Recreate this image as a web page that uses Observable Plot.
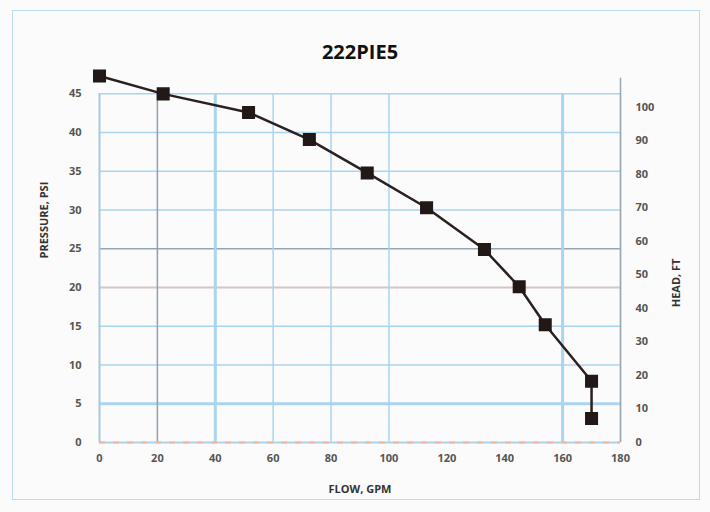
<!DOCTYPE html>
<html>
<head>
<meta charset="utf-8">
<script src="https://cdn.jsdelivr.net/npm/d3@7"></script>
<script src="https://cdn.jsdelivr.net/npm/@observablehq/plot@0.6"></script>
<style>
  body { margin: 0; background: #ffffff; }
  #wrap { position: relative; width: 710px; height: 512px; background: #fbfbfb; }
  #border { position: absolute; left: 12px; top: 10px; width: 686px; height: 488px; border: 1.5px solid #b9dcf2; pointer-events: none; }
  svg { position: absolute; left: 0; top: 0; }
</style>
</head>
<body>
<div id="wrap"><div id="border"></div></div>
<script>
const flow = [0, 22, 51.5, 72.5, 92.5, 113, 133, 145, 154, 170, 170];
const psi = [47.3, 45.0, 42.6, 39.1, 34.8, 30.3, 24.9, 20.1, 15.2, 7.9, 3.1];
const psiTicks = [0, 5, 10, 15, 20, 25, 30, 35, 40, 45];
const headTicks = [0, 10, 20, 30, 40, 50, 60, 70, 80, 90, 100];
const flowTicks = [0, 20, 40, 60, 80, 100, 120, 140, 160, 180];
const flowGrid = [20, 40, 60, 80, 100, 160, 180];
const title = "222PIE5";
const xLabel = "FLOW, GPM";
const yLabel = "PRESSURE, PSI";
const y2Label = "HEAD, FT";

const data = flow.map((f, i) => ({flow: f, psi: psi[i]}));
const font = "Open Sans, Liberation Sans, sans-serif";

const chart = Plot.plot({
  width: 710,
  height: 512,
  marginLeft: 99,
  marginRight: 90,
  marginTop: 74,
  marginBottom: 70,
  style: {fontFamily: font, fontSize: "11px", fontWeight: "bold", color: "#444", background: "transparent"},
  x: {domain: [0, 180]},
  y: {domain: [0, 47.5]},
  marks: [
    Plot.ruleY(psiTicks.filter(d => d > 0 && d !== 20 && d !== 25), {stroke: "#a9d5f0", strokeWidth: d => d === 5 ? 3 : 1.5}),
    Plot.ruleY([25], {stroke: "#8fa7b8", strokeWidth: 1.5}),
    Plot.ruleY([20], {stroke: "#d6c6c0", strokeWidth: 2}),
    Plot.ruleX(flowGrid.filter(d => d !== 20), {y1: 0, y2: 45, stroke: "#a9d5f0", strokeWidth: d => (d === 40 || d === 160) ? 3 : 1.5}),
    Plot.ruleX([20], {y1: 0, y2: 45, stroke: "#8fa0ae", strokeWidth: 1.5}),
    Plot.ruleY([0], {stroke: "#a9d5f0", strokeWidth: 2}),
    Plot.ruleY([0], {stroke: "#f0b8a0", strokeWidth: 2, strokeDasharray: "6,8"}),
    Plot.ruleX([0], {y1: 0, y2: 45, stroke: "#a9c8de", strokeWidth: 2}),
    Plot.ruleX([180], {y1: 0, y2: 47, stroke: "#9aa8b4", strokeWidth: 1.5}),
    Plot.axisX({ticks: flowTicks, tickSize: 0, tickPadding: 12, label: null, fill: "#555"}),
    Plot.axisY({ticks: psiTicks, tickSize: 0, tickPadding: 18, label: null, fill: "#555"}),
    Plot.axisY({anchor: "right", ticks: headTicks.map(h => h / 2.31), tickSize: 0, tickPadding: 15,
      tickFormat: d => String(Math.round(d * 2.31)), label: null, fill: "#555"}),
    Plot.line(data, {x: "flow", y: "psi", stroke: "#2b1f1f", strokeWidth: 2.5}),
    Plot.dot(data, {x: "flow", y: "psi", symbol: "square", r: 6.5, fill: "#221818", stroke: "#221818"}),
    Plot.text([title], {frameAnchor: "top", dy: -30, fontSize: 20, fontWeight: "bold", fill: "#111"}),
    Plot.text([xLabel], {frameAnchor: "bottom", dy: 50, fontSize: 11, fontWeight: "bold", fill: "#333"}),
    Plot.text([yLabel], {frameAnchor: "left", dx: -55, rotate: -90, fontSize: 11, fontWeight: "bold", fill: "#333"}),
    Plot.text([y2Label], {frameAnchor: "right", dx: 56, rotate: -90, fontSize: 11, fontWeight: "bold", fill: "#333"})
  ]
});
document.getElementById("wrap").appendChild(chart);
</script>
</body>
</html>
